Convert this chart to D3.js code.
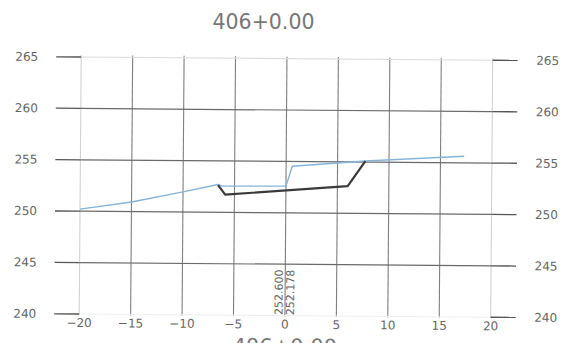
<!DOCTYPE html>
<html>
<head>
<meta charset="utf-8">
<script src="https://cdn.jsdelivr.net/npm/d3@7"></script>
<style>
  html, body { margin: 0; padding: 0; background: #fff; }
  svg { display: block; }
  text { font-family: "DejaVu Sans", sans-serif; }
</style>
</head>
<body>
<svg id="chart" width="568" height="343"></svg>
<script>
const title = "406+0.00";
const xTicks = [-20, -15, -10, -5, 0, 5, 10, 15, 20];
const yTicks = [240, 245, 250, 255, 260, 265];
const groundX = [-20, -15, -10, -6.6, -6.2, 0, 0.6, 7.7, 17.3];
const groundY = [250.2, 250.94, 251.96, 252.7, 252.55, 252.6, 254.54, 255.1, 255.64];
const designX = [-6.6, -5.9, 6.0, 7.7];
const designY = [252.65, 251.72, 252.64, 255.1];
const offsetLabels = ["252.600", "252.178"];

const svg = d3.select("#chart");
const x = d3.scaleLinear().domain([-20, 20]).range([80, 491.5]);
const y = d3.scaleLinear().domain([240, 265]).range([314, 57]);

svg.append("text")
  .attr("x", 263.5).attr("y", 28.5)
  .attr("text-anchor", "middle")
  .attr("font-size", 20.5)
  .attr("fill", "#777")
  .text(title);

const g = svg.append("g").attr("transform", "rotate(0.45,80,211)");

// vertical grid lines
g.selectAll("line.v").data(xTicks).join("line")
  .attr("class", "v")
  .attr("x1", d => x(d)).attr("x2", d => x(d))
  .attr("y1", y(265) - 2).attr("y2", y(240) + 1)
  .attr("stroke", d => (d === -20 || d === 20) ? "#d2d2d2" : "#7f7f7f")
  .attr("stroke-width", 1.1);

// horizontal grid lines (inner portion)
g.selectAll("line.hin").data(yTicks).join("line")
  .attr("class", "hin")
  .attr("x1", x(-20)).attr("x2", x(20))
  .attr("y1", d => y(d)).attr("y2", d => y(d))
  .attr("stroke", d => d === 265 ? "#dddddd" : d === 240 ? "#f0f0f0" : "#6a6a6a")
  .attr("stroke-width", 1.2);

// outer tick segments
g.selectAll("line.hl").data(yTicks).join("line")
  .attr("class", "hl")
  .attr("x1", x(-20) - 25).attr("x2", x(-20))
  .attr("y1", d => y(d)).attr("y2", d => y(d))
  .attr("stroke", "#555").attr("stroke-width", 1.3);
g.selectAll("line.hr").data(yTicks).join("line")
  .attr("class", "hr")
  .attr("x1", x(20)).attr("x2", x(20) + 25)
  .attr("y1", d => y(d)).attr("y2", d => y(d))
  .attr("stroke", "#555").attr("stroke-width", 1.3);

// y labels
g.selectAll("text.yl").data(yTicks).join("text")
  .attr("class", "yl")
  .attr("x", 37).attr("y", d => y(d))
  .attr("dy", "0.35em")
  .attr("text-anchor", "end")
  .attr("font-size", 12).attr("fill", "#666")
  .text(d => d);
g.selectAll("text.yr").data(yTicks).join("text")
  .attr("class", "yr")
  .attr("x", 535).attr("y", d => y(d))
  .attr("dy", "0.35em")
  .attr("text-anchor", "start")
  .attr("font-size", 12).attr("fill", "#666")
  .text(d => d);

// x labels
g.selectAll("text.xl").data(xTicks).join("text")
  .attr("class", "xl")
  .attr("x", d => x(d)).attr("y", 327)
  .attr("text-anchor", "middle")
  .attr("font-size", 12).attr("fill", "#666")
  .text(d => d < 0 ? "\u2212" + Math.abs(d) : d);

// ground line
const ground = groundX.map((v, i) => [v, groundY[i]]);
const design = designX.map((v, i) => [v, designY[i]]);
const line = d3.line().x(d => x(d[0])).y(d => y(d[1]));

g.append("path").attr("d", line(ground))
  .attr("fill", "none").attr("stroke", "#86b3d8").attr("stroke-width", 1.4)
  .attr("stroke-linejoin", "round");
g.append("path").attr("d", line(design))
  .attr("fill", "none").attr("stroke", "#3a3a3a").attr("stroke-width", 2.2)
  .attr("stroke-linejoin", "round");

// offset elevation labels (vertical)
const lblX = [x(0) - 2.5, x(0) + 9];
offsetLabels.forEach((t, i) => {
  g.append("text")
    .attr("transform", `translate(${lblX[i]},313.5) rotate(-90)`)
    .attr("text-anchor", "start")
    .attr("font-size", 11).attr("fill", "#666")
    .text(t);
});

// station label at bottom, partly outside the photographed area as in the reference
g.append("text")
  .attr("x", x(0)).attr("y", 352)
  .attr("text-anchor", "middle")
  .attr("font-size", 21)
  .attr("fill", "#777")
  .text(title);
</script>
</body>
</html>
